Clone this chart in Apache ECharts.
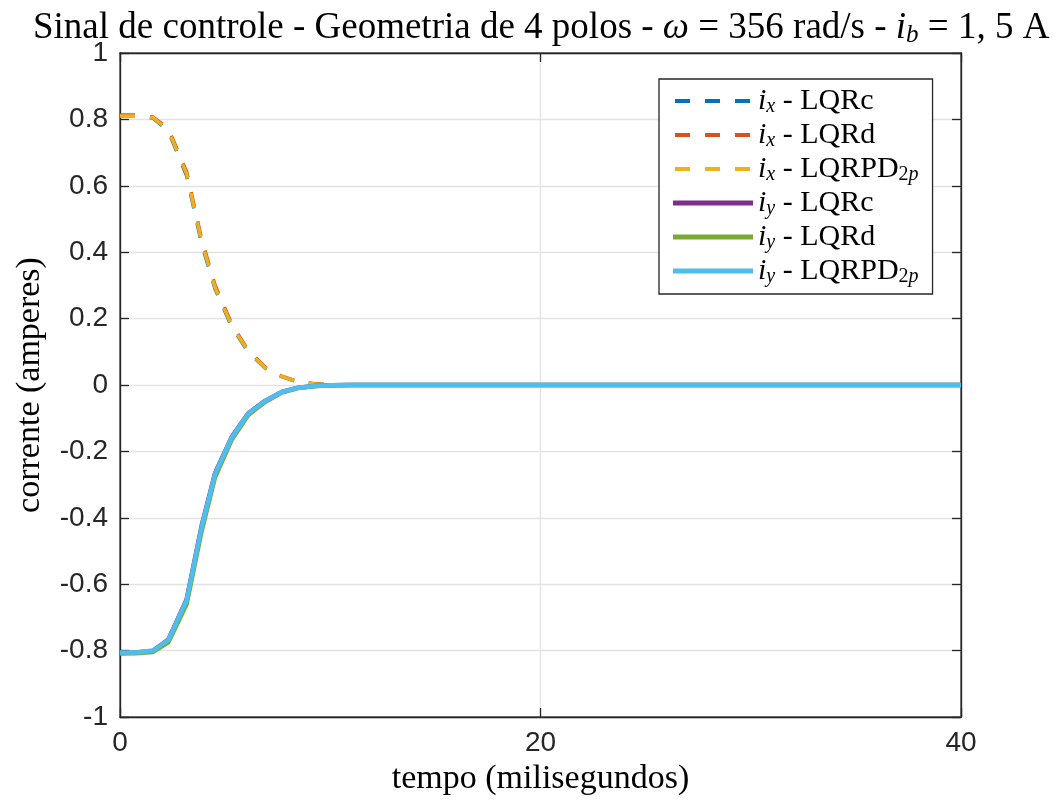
<!DOCTYPE html>
<html>
<head>
<meta charset="utf-8">
<script src="https://cdn.jsdelivr.net/npm/echarts@6/dist/echarts.min.js"></script>
<style>
html,body{margin:0;padding:0;background:#fff;}
#chart{width:1053px;height:803px;}
</style>
</head>
<body>
<div id="chart"></div>
<script>
// time in milliseconds
const tempo = [0, 0.76, 1.57, 2.3, 3.17, 3.88, 4.52, 5.31, 6.1, 6.9, 7.69, 8.48, 9.27, 10.1, 11, 12, 40];
const ixLQRc   = [0.811, 0.811, 0.804, 0.765, 0.630, 0.426, 0.290, 0.176, 0.099, 0.051, 0.025, 0.008, 0.003, 0.001, 0, 0, 0];
const ixLQRd   = [0.813, 0.813, 0.807, 0.772, 0.642, 0.440, 0.301, 0.184, 0.104, 0.054, 0.027, 0.010, 0.004, 0.001, 0, 0, 0];
const ixLQRPD  = [0.810, 0.810, 0.805, 0.768, 0.635, 0.432, 0.294, 0.179, 0.101, 0.052, 0.026, 0.009, 0.003, 0.001, 0, 0, 0];
const iyLQRc   = [-0.807, -0.806, -0.801, -0.767, -0.646, -0.425, -0.266, -0.157, -0.085, -0.048, -0.021, -0.008, -0.003, -0.001, 0, 0, 0];
const iyLQRd   = [-0.809, -0.808, -0.804, -0.775, -0.660, -0.441, -0.278, -0.165, -0.090, -0.051, -0.023, -0.009, -0.003, -0.001, 0, 0, 0];
const iyLQRPD  = [-0.806, -0.806, -0.800, -0.768, -0.648, -0.428, -0.268, -0.158, -0.086, -0.048, -0.021, -0.008, -0.003, -0.001, 0, 0, 0];

const seriesNames = ['ix - LQRc', 'ix - LQRd', 'ix - LQRPD2p', 'iy - LQRc', 'iy - LQRd', 'iy - LQRPD2p'];
const legendLabels = {
  'ix - LQRc': '{it|i}{sub|x}{n| - LQRc}',
  'ix - LQRd': '{it|i}{sub|x}{n| - LQRd}',
  'ix - LQRPD2p': '{it|i}{sub|x}{n| - LQRPD}{sub2|2}{sub|p}',
  'iy - LQRc': '{it|i}{sub|y}{n| - LQRc}',
  'iy - LQRd': '{it|i}{sub|y}{n| - LQRd}',
  'iy - LQRPD2p': '{it|i}{sub|y}{n| - LQRPD}{sub2|2}{sub|p}'
};
const colors = ['#0072BD', '#D95319', '#EDB120', '#7E2F8E', '#77AC30', '#4DBEEE'];
const values = [ixLQRc, ixLQRd, ixLQRPD, iyLQRc, iyLQRd, iyLQRPD];

const serif = '"Liberation Serif", "DejaVu Serif", serif';
const sans = '"Liberation Sans", Arial, sans-serif';
const axisColor = '#262626';

// legend icon shapes (80 x 5 box)
const dashIcon = 'path://M0,0L0,5 M80,0L80,5 M2,0.5h15v4h-15z M32,0.5h15v4h-15z M62,0.5h15v4h-15z';
const solidIcon = 'path://M0,0h80v5h-80z';

const series = seriesNames.map((name, k) => {
  const dashed = k < 3;
  return {
    name: name,
    type: 'line',
    data: tempo.map((t, i) => [t, values[k][i]]),
    symbol: 'circle',
    symbolSize: 4,
    showSymbol: false,
    color: colors[k],
    itemStyle: { color: colors[k] },
    lineStyle: {
      color: colors[k],
      width: dashed ? 3.5 : 4.5,
      type: dashed ? [15, 15] : 'solid',
      cap: 'butt'
    },
    animation: false,
    silent: true
  };
});

const legendData = seriesNames.map((name, k) => ({
  name: name,
  icon: k < 3 ? dashIcon : solidIcon,
  itemStyle: { color: colors[k], borderWidth: 0 }
}));

const subStyle = { fontFamily: serif, fontSize: 20, fontStyle: 'italic', color: '#000', verticalAlign: 'bottom', padding: [12, 0, 0, 0] };

const chart = echarts.init(document.getElementById('chart'), null, { renderer: 'canvas' });
chart.setOption({
  backgroundColor: '#ffffff',
  animation: false,
  title: {
    text: '{n|Sinal de controle - Geometria de 4 polos - }{it|ω}{n| = 356 rad/s - }{it|i}{sub|b}{n| = 1, 5 A}',
    left: 28,
    top: 4,
    textStyle: {
      fontFamily: serif,
      fontSize: 37,
      fontWeight: 'normal',
      color: '#000',
      rich: {
        n: { fontFamily: serif, fontSize: 37, color: '#000' },
        it: { fontFamily: serif, fontSize: 37, fontStyle: 'italic', color: '#000' },
        sub: { fontFamily: serif, fontSize: 25, fontStyle: 'italic', color: '#000', verticalAlign: 'bottom', padding: [14, 0, 0, 0] }
      }
    }
  },
  grid: {
    left: 120, right: 92, top: 53, bottom: 86,
    show: true,
    borderColor: axisColor,
    borderWidth: 1.3,
    backgroundColor: '#fff'
  },
  legend: {
    orient: 'vertical',
    left: 659,
    top: 79,
    data: legendData,
    itemWidth: 80,
    itemHeight: 5,
    itemGap: 3,
    padding: [7, 14, 7, 14],
    backgroundColor: '#fff',
    borderColor: axisColor,
    borderWidth: 1.3,
    borderRadius: 0,
    formatter: name => legendLabels[name],
    itemStyle: { borderWidth: 0 },
    textStyle: {
      fontFamily: serif,
      fontSize: 30,
      color: '#000',
      rich: {
        n: { fontFamily: serif, fontSize: 30, color: '#000' },
        it: { fontFamily: serif, fontSize: 30, fontStyle: 'italic', color: '#000' },
        sub: subStyle,
        sub2: Object.assign({}, subStyle, { fontStyle: 'normal' })
      }
    },
    selectedMode: false
  },
  xAxis: [{
    type: 'value',
    min: 0, max: 40, interval: 20,
    position: 'bottom',
    name: 'tempo (milisegundos)',
    nameLocation: 'middle',
    nameGap: 40,
    nameTextStyle: { fontFamily: serif, fontSize: 34, color: '#000' },
    axisLine: { show: true, onZero: false, lineStyle: { color: axisColor, width: 1.3 } },
    axisTick: { show: true, inside: true, length: 9, lineStyle: { color: axisColor, width: 1.3 } },
    axisLabel: { fontFamily: sans, fontSize: 28, color: axisColor, margin: 12 },
    splitLine: { show: true, lineStyle: { color: '#e3e3e3', width: 1.3 } }
  }, {
    type: 'value',
    min: 0, max: 40, interval: 20,
    position: 'top',
    axisLine: { show: true, onZero: false, lineStyle: { color: axisColor, width: 1.3 } },
    axisTick: { show: true, inside: true, length: 9, lineStyle: { color: axisColor, width: 1.3 } },
    axisLabel: { show: false },
    splitLine: { show: false }
  }],
  yAxis: [{
    type: 'value',
    min: -1, max: 1, interval: 0.2,
    position: 'left',
    name: 'corrente (amperes)',
    nameLocation: 'middle',
    nameGap: 73,
    nameTextStyle: { fontFamily: serif, fontSize: 34, color: '#000' },
    axisLine: { show: true, onZero: false, lineStyle: { color: axisColor, width: 1.3 } },
    axisTick: { show: true, inside: true, length: 9, lineStyle: { color: axisColor, width: 1.3 } },
    axisLabel: { fontFamily: sans, fontSize: 28, color: axisColor, margin: 12 },
    splitLine: { show: true, lineStyle: { color: '#e3e3e3', width: 1.3 } }
  }, {
    type: 'value',
    min: -1, max: 1, interval: 0.2,
    position: 'right',
    axisLine: { show: true, onZero: false, lineStyle: { color: axisColor, width: 1.3 } },
    axisTick: { show: true, inside: true, length: 9, lineStyle: { color: axisColor, width: 1.3 } },
    axisLabel: { show: false },
    splitLine: { show: false }
  }],
  series: series
});
</script>
</body>
</html>
